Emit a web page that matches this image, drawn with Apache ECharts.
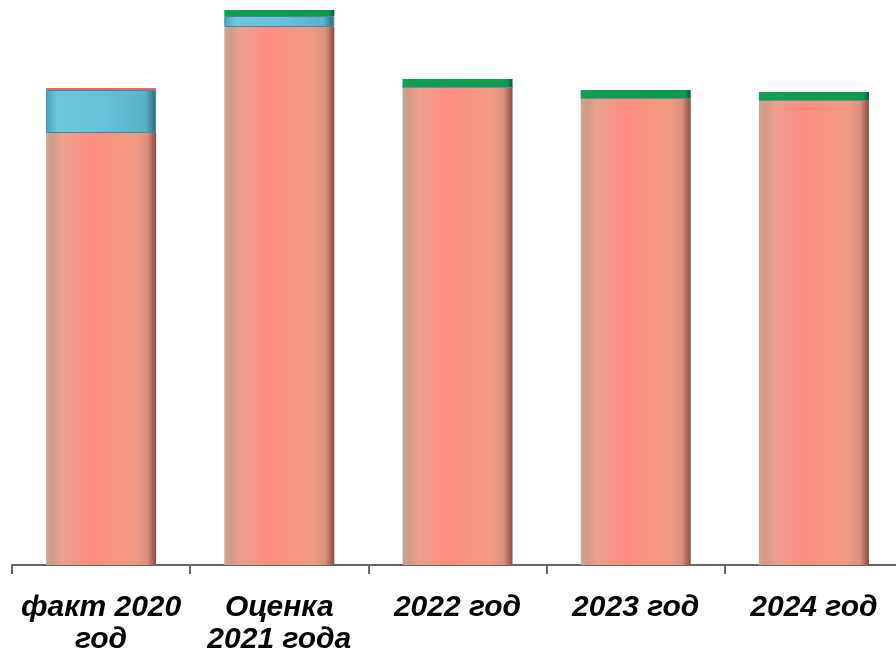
<!DOCTYPE html>
<html>
<head>
<meta charset="utf-8">
<script src="https://cdn.jsdelivr.net/npm/echarts@6/dist/echarts.min.js"></script>
<style>
  html, body { margin: 0; padding: 0; background: #fff; }
  #chart { width: 896px; height: 656px; }
</style>
</head>
<body>
<div id="chart"></div>
<script>
var categories = ['факт 2020\nгод', 'Оценка\n2021 года', '2022 год', '2023 год', '2024 год'];
var mainPart  = [432, 538, 478, 467, 465];
var bluePart  = [43, 11, 0, 0, 0];
var greenPart = [0, 6, 8, 8, 8];
var redPart   = [2, 0, 0, 0, 0];

function hGrad(stops) {
  return new echarts.graphic.LinearGradient(0, 0, 1, 0, stops);
}

var salmon = hGrad([
  { offset: 0, color: '#c8a898' },
  { offset: 0.06, color: '#d29a86' },
  { offset: 0.15, color: '#eca08c' },
  { offset: 0.4, color: '#fb8d80' },
  { offset: 0.8, color: '#f19a82' },
  { offset: 0.92, color: '#dc907e' },
  { offset: 1, color: '#8c4c3c' }
]);
var blue = hGrad([
  { offset: 0, color: '#4fa3b8' },
  { offset: 0.1, color: '#6cc6dc' },
  { offset: 0.5, color: '#66c2da' },
  { offset: 0.9, color: '#5ab2c8' },
  { offset: 1, color: '#2f6a7a' }
]);
var green = hGrad([
  { offset: 0, color: '#10a050' },
  { offset: 0.95, color: '#0e9c4c' },
  { offset: 1, color: '#0a5a30' }
]);

var chart = echarts.init(document.getElementById('chart'));
chart.setOption({
  animation: false,
  grid: { left: 12, width: 891, top: 0, bottom: 91, outerBoundsMode: 'none', containLabel: false },
  xAxis: {
    type: 'category',
    data: categories,
    axisLine: { lineStyle: { color: '#666', width: 2 } },
    axisTick: { show: true, interval: 0, length: 9, lineStyle: { color: '#666', width: 2 } },
    axisLabel: {
      interval: 0,
      margin: 27,
      color: '#000',
      fontFamily: 'Liberation Sans, Arial, sans-serif',
      fontSize: 30,
      fontWeight: 'bold',
      fontStyle: 'italic',
      lineHeight: 32
    }
  },
  yAxis: { type: 'value', min: 0, max: 565, show: false },
  series: [
    { type: 'bar', stack: 'a', data: mainPart, barWidth: 110, itemStyle: { color: salmon } },
    { type: 'bar', stack: 'a', data: bluePart, itemStyle: { color: blue, borderColor: '#3f8ea2', borderWidth: 1 } },
    { type: 'bar', stack: 'a', data: greenPart, itemStyle: { color: green } },
    { type: 'bar', stack: 'a', data: redPart, itemStyle: { color: '#d87060' } }
  ]
});
</script>
</body>
</html>
